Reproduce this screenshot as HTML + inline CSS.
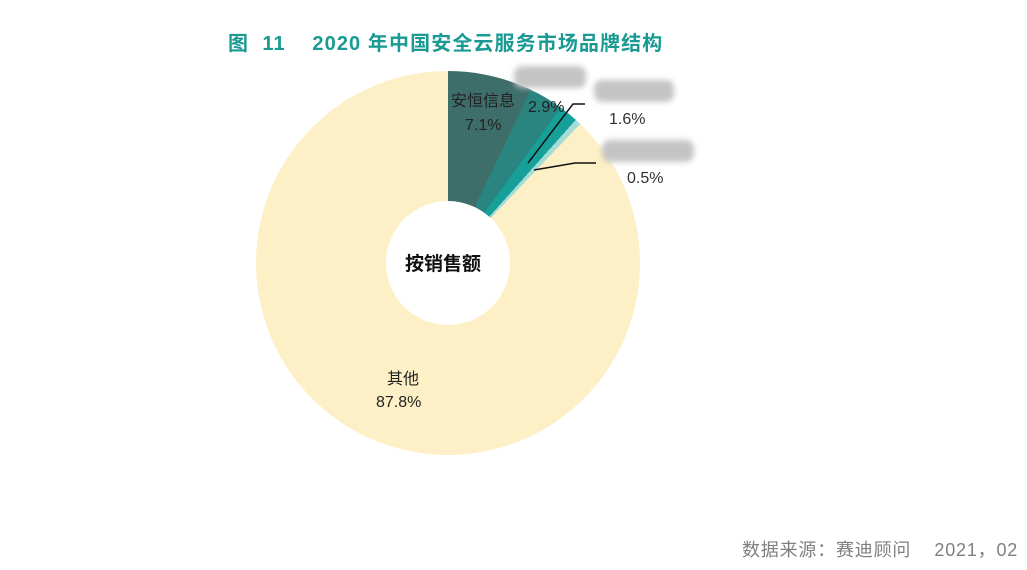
<!DOCTYPE html>
<html><head><meta charset="utf-8"><style>
body{margin:0;width:1027px;height:570px;background:#fff;position:relative;overflow:hidden;font-family:"Liberation Sans","Noto Sans CJK SC",sans-serif;}
.t{position:absolute;white-space:nowrap;}
.pie{position:absolute;left:256px;top:71px;width:384px;height:384px;border-radius:50%;
background:conic-gradient(#3d6e6a 0deg 25.56deg,#2a8480 25.56deg 36deg,#17a09a 36deg 41.76deg,#a6dcd8 41.76deg 43.56deg,#fdf0c6 43.56deg 360deg);}
.hole{position:absolute;left:386px;top:201px;width:124px;height:124px;border-radius:50%;background:#fff;}
.blur{position:absolute;background:#c4c4c4;filter:blur(3px);border-radius:8px;}
</style></head><body>
<div class="t" style="left:228px;top:27px;font-size:20px;font-weight:bold;color:#1a9a93;letter-spacing:1.1px;">图&nbsp; 11&nbsp;&nbsp;&nbsp; 2020 年中国安全云服务市场品牌结构</div>
<div class="pie"></div>
<div class="hole"></div>
<div class="t" style="left:405px;top:249px;font-size:19px;font-weight:bold;color:#111;">按销售额</div>
<div class="t" style="left:451px;top:87px;font-size:16px;color:#222;">安恒信息</div>
<div class="t" style="left:465px;top:117px;font-size:16px;color:#222;">7.1%</div>
<div class="t" style="left:528px;top:99px;font-size:16px;color:#222;">2.9%</div>
<div class="t" style="left:609px;top:111px;font-size:16px;color:#333;">1.6%</div>
<div class="t" style="left:627px;top:170px;font-size:16px;color:#333;">0.5%</div>
<div class="t" style="left:387px;top:365px;font-size:16px;color:#222;">其他</div>
<div class="t" style="left:376px;top:394px;font-size:16px;color:#222;">87.8%</div>
<div class="blur" style="left:514px;top:66px;width:72px;height:22px;"></div>
<div class="blur" style="left:594px;top:80px;width:80px;height:22px;"></div>
<div class="blur" style="left:602px;top:140px;width:92px;height:22px;"></div>
<svg width="1027" height="570" style="position:absolute;left:0;top:0">
<polyline points="528,163 573,104 585,104" fill="none" stroke="#111" stroke-width="1.5"/>
<polyline points="534,170 575,163 596,163" fill="none" stroke="#111" stroke-width="1.5"/>
</svg>
<div class="t" style="left:742px;top:536px;font-size:18px;color:#7f7f7f;letter-spacing:0.8px;">数据来源：赛迪顾问&nbsp;&nbsp;&nbsp; 2021，02</div>
</body></html>
